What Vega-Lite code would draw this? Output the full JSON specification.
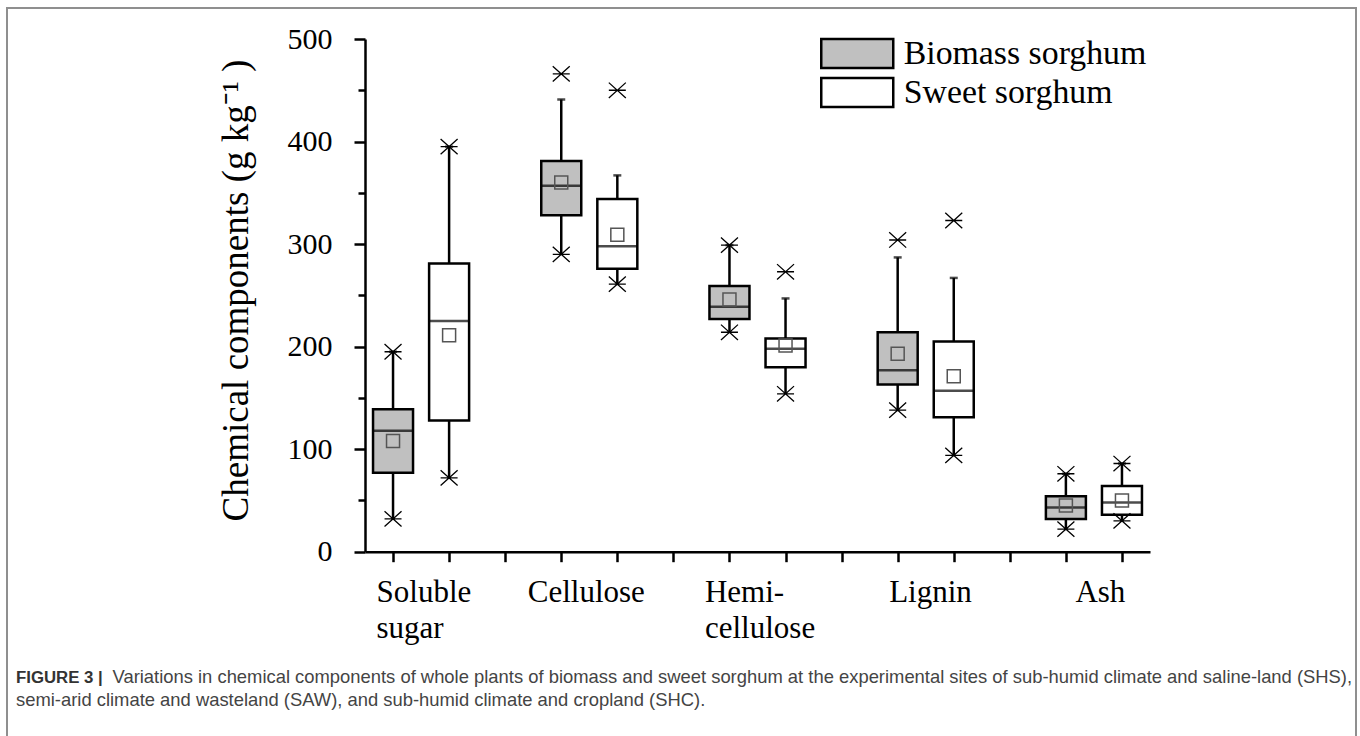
{
  "$schema": "https://vega.github.io/schema/vega-lite/v6.json",
  "width": 1349,
  "height": 740,
  "autosize": {"type": "none"},
  "padding": {"left": 7, "top": 8, "right": 4, "bottom": -12},
  "background": "white",
  "title": {
    "text": "FIGURE 3 |",
    "subtitle": "semi-arid climate and wasteland (SAW), and sub-humid climate and cropland (SHC).",
    "orient": "bottom",
    "anchor": "start",
    "frame": "group",
    "font": "Liberation Sans",
    "fontSize": 16.8,
    "fontWeight": "bold",
    "color": "#333333",
    "subtitleFont": "Liberation Sans",
    "subtitleFontSize": 18.4,
    "subtitleColor": "#444444",
    "subtitlePadding": 4,
    "offset": 0,
    "dx": 9,
    "dy": -78
  },
  "data": {
    "values": [
      {"component": "Soluble sugar", "type": "Biomass sorghum", "slot": "Soluble sugar|Biomass", "min": 32, "q1": 77, "median": 118, "q3": 139, "whisker_high": 195, "max": 195, "mean": 108},
      {"component": "Soluble sugar", "type": "Sweet sorghum", "slot": "Soluble sugar|Sweet", "min": 72, "q1": 128, "median": 225, "q3": 281, "whisker_high": 395, "max": 395, "mean": 211},
      {"component": "Cellulose", "type": "Biomass sorghum", "slot": "Cellulose|Biomass", "min": 290, "q1": 328, "median": 357, "q3": 381, "whisker_high": 441, "max": 466, "mean": 360},
      {"component": "Cellulose", "type": "Sweet sorghum", "slot": "Cellulose|Sweet", "min": 261, "q1": 276, "median": 298, "q3": 344, "whisker_high": 367, "max": 450, "mean": 309},
      {"component": "Hemicellulose", "type": "Biomass sorghum", "slot": "Hemicellulose|Biomass", "min": 214, "q1": 227, "median": 239, "q3": 259, "whisker_high": 299, "max": 299, "mean": 246},
      {"component": "Hemicellulose", "type": "Sweet sorghum", "slot": "Hemicellulose|Sweet", "min": 154, "q1": 180, "median": 198, "q3": 208, "whisker_high": 247, "max": 273, "mean": 201},
      {"component": "Lignin", "type": "Biomass sorghum", "slot": "Lignin|Biomass", "min": 138, "q1": 163, "median": 177, "q3": 214, "whisker_high": 287, "max": 304, "mean": 193},
      {"component": "Lignin", "type": "Sweet sorghum", "slot": "Lignin|Sweet", "min": 94, "q1": 131, "median": 157, "q3": 205, "whisker_high": 267, "max": 323, "mean": 171},
      {"component": "Ash", "type": "Biomass sorghum", "slot": "Ash|Biomass", "min": 22, "q1": 32, "median": 43, "q3": 54, "whisker_high": 76, "max": 76, "mean": 45},
      {"component": "Ash", "type": "Sweet sorghum", "slot": "Ash|Sweet", "min": 30, "q1": 36, "median": 48, "q3": 64, "whisker_high": 86, "max": 86, "mean": 50}
    ]
  },
  "encoding": {
    "x": {
      "field": "slot",
      "type": "nominal",
      "sort": null,
      "scale": {
        "type": "point",
        "domain": ["Soluble sugar|Biomass", "Soluble sugar|Sweet", "gap1", "Cellulose|Biomass", "Cellulose|Sweet", "gap2", "Hemicellulose|Biomass", "Hemicellulose|Sweet", "gap3", "Lignin|Biomass", "Lignin|Sweet", "gap4", "Ash|Biomass", "Ash|Sweet"],
        "range": [358, 1143],
        "padding": 0.5
      },
      "axis": {
        "orient": "bottom",
        "offset": -196.3,
        "domainColor": "black",
        "domainWidth": 2.5,
        "tickColor": "black",
        "tickWidth": 2.5,
        "tickSize": 10,
        "labelExpr": "datum.value == 'Soluble sugar|Biomass' ? ['Soluble', 'sugar'] : datum.value == 'Cellulose|Biomass' ? 'Cellulose' : datum.value == 'Hemicellulose|Biomass' ? ['Hemi-', 'cellulose'] : datum.value == 'Lignin|Biomass' ? 'Lignin' : datum.value == 'Ash|Biomass' ? 'Ash' : ''",
        "labelAngle": 0,
        "labelAlign": "left",
        "labelBaseline": "top",
        "labelOffset": {
          "condition": [
            {"test": "datum.value == 'Soluble sugar|Biomass'", "value": -17},
            {"test": "datum.value == 'Cellulose|Biomass'", "value": -34},
            {"test": "datum.value == 'Hemicellulose|Biomass'", "value": -25},
            {"test": "datum.value == 'Lignin|Biomass'", "value": -9}
          ],
          "value": 9
        },
        "labelPadding": 16,
        "labelFont": "Liberation Serif",
        "labelFontSize": 31,
        "labelLineHeight": 36,
        "labelColor": "black",
        "labelOverlap": false,
        "labelFlush": false,
        "labelLimit": 0,
        "grid": false,
        "title": "Variations in chemical components of whole plants of biomass and sweet sorghum at the experimental sites of sub-humid climate and saline-land (SHS),",
        "titleX": 105,
        "titleY": 131,
        "titleAlign": "left",
        "titleAnchor": null,
        "titleBaseline": "alphabetic",
        "titleFont": "Liberation Sans",
        "titleFontSize": 18.4,
        "titleFontWeight": "normal",
        "titleColor": "#444444",
        "titleLimit": 0
      }
    }
  },
  "layer": [
    {
      "mark": {"type": "rule", "color": "black", "strokeWidth": 2.5},
      "encoding": {
        "y": {
          "field": "min",
          "type": "quantitative",
          "scale": {"domain": [0, 500], "range": [543.7, 31], "nice": false, "zero": false},
          "axis": {
            "orient": "left",
            "offset": -358,
            "values": [0, 50, 100, 150, 200, 250, 300, 350, 400, 450, 500],
            "labelExpr": "datum.value % 100 === 0 ? datum.label : ''",
            "tickSize": {"condition": {"test": "datum.value % 100 === 0", "value": 11}, "value": 7},
            "tickColor": "black",
            "tickWidth": 2.5,
            "domainColor": "black",
            "domainWidth": 2.5,
            "labelFont": "Liberation Serif",
            "labelFontSize": 30,
            "labelColor": "black",
            "labelPadding": 22,
            "labelOverlap": false,
            "labelFlush": false,
            "grid": false,
            "title": "Chemical components (g kg\u207B\u00B9 )",
            "titleFont": "Liberation Serif",
            "titleFontSize": 37,
            "titleFontWeight": "normal",
            "titleColor": "black",
            "titleAngle": -90,
            "titleX": -118,
            "titleY": 282,
            "titleAlign": "center",
            "titleBaseline": "alphabetic",
            "titleLimit": 0
          }
        },
        "y2": {"field": "whisker_high"}
      }
    },
    {
      "mark": {"type": "tick", "color": "black", "size": 8, "thickness": 2.5},
      "encoding": {
        "y": {"field": "whisker_high", "type": "quantitative"}
      }
    },
    {
      "mark": {"type": "bar", "width": 40, "stroke": "black", "strokeWidth": 2.5},
      "encoding": {
        "y": {"field": "q1", "type": "quantitative"},
        "y2": {"field": "q3"},
        "fill": {
          "field": "type",
          "type": "nominal",
          "scale": {"domain": ["Biomass sorghum", "Sweet sorghum"], "range": ["#c0c0c0", "#ffffff"]},
          "legend": {
            "orient": "none",
            "legendX": 832.75,
            "legendY": 28,
            "title": null,
            "padding": 0,
            "symbolType": "M-2.25,-0.906H2.25V0.906H-2.25Z",
            "symbolSize": 1024,
            "symbolStrokeColor": "black",
            "symbolStrokeWidth": 2.5,
            "symbolOpacity": 1,
            "labelFont": "Liberation Serif",
            "labelFontSize": 33.8,
            "labelColor": "black",
            "labelOffset": 29,
            "labelLimit": 0,
            "rowPadding": 0
          }
        }
      }
    },
    {
      "mark": {"type": "tick", "color": "black", "size": 40, "thickness": 2.5},
      "encoding": {
        "y": {"field": "median", "type": "quantitative"}
      }
    },
    {
      "mark": {"type": "point", "shape": "square", "size": 169, "filled": false, "stroke": "#555555", "strokeWidth": 1.5, "opacity": 1},
      "encoding": {
        "y": {"field": "mean", "type": "quantitative"}
      }
    },
    {
      "mark": {"type": "point", "shape": "M-1,-0.9L1,0.9M-1,0.9L1,-0.9M-1,0L1,0", "size": 289, "filled": false, "stroke": "black", "strokeWidth": 1.3, "opacity": 1},
      "encoding": {
        "y": {"field": "max", "type": "quantitative"}
      }
    },
    {
      "mark": {"type": "point", "shape": "M-1,-0.9L1,0.9M-1,0.9L1,-0.9M-1,0L1,0", "size": 289, "filled": false, "stroke": "black", "strokeWidth": 1.3, "opacity": 1},
      "encoding": {
        "y": {"field": "min", "type": "quantitative"}
      }
    }
  ],
  "config": {
    "view": {"stroke": "#8f8f8f", "strokeWidth": 2, "fill": "white"},
    "axis": {"labelAngle": 0}
  }
}
